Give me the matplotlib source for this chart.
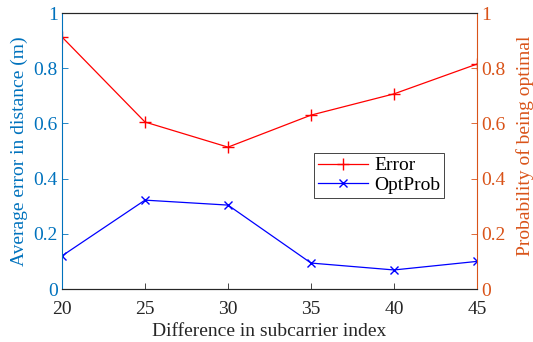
import matplotlib
matplotlib.use("Agg")
import matplotlib.pyplot as plt

plt.rcParams['font.family'] = ['Liberation Serif', 'DejaVu Serif']
plt.rcParams['font.size'] = 14

diff_idx = [20, 25, 30, 35, 40, 45]
error = [0.913, 0.605, 0.514, 0.630, 0.707, 0.815]
opt_prob = [0.120, 0.322, 0.304, 0.094, 0.069, 0.100]

left_color = '#0072BD'
right_color = '#D95319'
frame_color = '#262626'

fig = plt.figure(figsize=(5.33, 3.42), dpi=100)
ax = fig.add_axes([62 / 533, 53 / 342, 415 / 533, 276 / 342])
ax2 = ax.twinx()

l1, = ax.plot(diff_idx, error, color='red', marker='+', markersize=8, lw=0.9, label='Error')
l2, = ax.plot(diff_idx, opt_prob, color='blue', marker='x', markersize=6, lw=0.9, label='OptProb')

ax.set_xlim(20, 45)
ax.set_ylim(0, 1)
ax2.set_ylim(0, 1)
ax.set_xticks(diff_idx)
ax.set_yticks([0, 0.2, 0.4, 0.6, 0.8, 1])
ax2.set_yticks([0, 0.2, 0.4, 0.6, 0.8, 1])
ax.set_yticklabels(['0', '0.2', '0.4', '0.6', '0.8', '1'])
ax2.set_yticklabels(['0', '0.2', '0.4', '0.6', '0.8', '1'])

for a in (ax, ax2):
    a.tick_params(direction='in', length=4, width=0.6, pad=3)
    a.spines['top'].set_color(frame_color)
    a.spines['bottom'].set_color(frame_color)
ax.tick_params(axis='x', colors=frame_color, pad=9)
ax.tick_params(axis='y', colors=left_color)
ax2.tick_params(axis='y', colors=right_color)
ax.spines['left'].set_color(left_color)
ax2.spines['left'].set_visible(False)
ax2.spines['right'].set_color(right_color)
ax.spines['right'].set_visible(False)

ax.set_xlabel('Difference in subcarrier index', color=frame_color, labelpad=3)
ax.set_ylabel('Average error in distance (m)', color=left_color, labelpad=4)
ax2.set_ylabel('Probability of being optimal', color=right_color)
ax2.yaxis.set_label_coords(1.094, 0.518)

leg = ax.legend(handles=[l1, l2], loc='lower left', bbox_to_anchor=(0.607, 0.33),
                borderaxespad=0, fancybox=False, edgecolor=frame_color, framealpha=1,
                handlelength=2.6, borderpad=0.2, labelspacing=0.1, handletextpad=0.3)
leg.get_frame().set_linewidth(0.6)

fig.savefig('out.png', dpi=100)
